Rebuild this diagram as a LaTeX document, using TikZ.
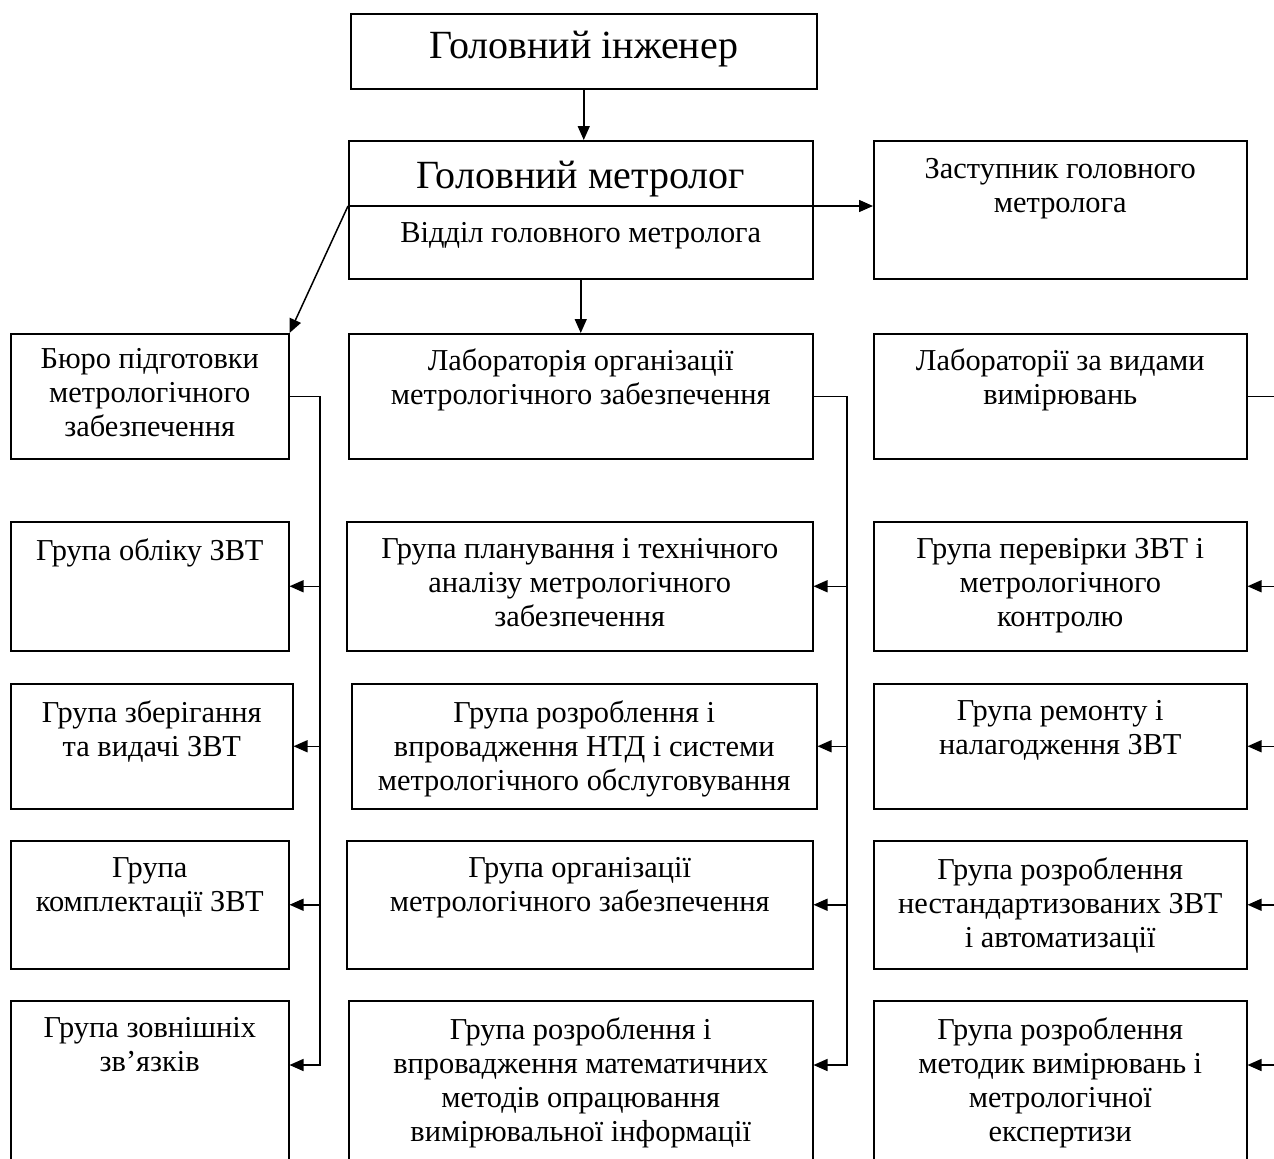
\documentclass[tikz,border=0pt]{standalone}
\usepackage{fontspec}
\setmainfont{Liberation Serif}
\usetikzlibrary{positioning,arrows.meta,calc}

\begin{document}
\begin{tikzpicture}[x=0.5pt, y=-0.5pt, line width=0.75pt,
	>={Triangle[length=7pt,width=6pt]},
	box/.style={draw, anchor=north west, inner sep=0pt, minimum height=62.5pt},
	txt/.style={align=center, inner sep=0pt, font=\fontsize{15.2pt}{17pt}\selectfont}]
	\clip (0,0) rectangle (1274,1158);
	% top levels
	\node[box, minimum width=233pt, minimum height=37.5pt] (eng) at (350,13) {};
	\node[txt, below=8.5pt of eng.north, font=\fontsize{20pt}{22pt}\selectfont] (eng-t) {Головний інженер};
	\node[box, minimum width=232pt, minimum height=69pt] (metr) at (348,140) {};
	\node[txt, below=10pt of metr.north, font=\fontsize{20pt}{22pt}\selectfont] (metr-t) {Головний метролог};
	\node[txt, below=41pt of metr.north, font=\fontsize{15.2pt}{17pt}\selectfont] (metr-d) {Відділ головного метролога};
	\node[box, minimum width=186.5pt, minimum height=69pt] (zast) at (873,140) {};
	\node[txt, below=9pt of zast.north] (zast-t) {Заступник головного\\метролога};
	\coordinate (split) at (348,206);
	
	% bureau and laboratories
	\node[box, minimum width=139pt] (bureau) at (10,333) {};
	\node[txt, below=7.5pt of bureau.north] (bureau-t) {Бюро підготовки\\метрологічного\\забезпечення};
	\node[box, minimum width=232pt] (lab) at (348,333) {};
	\node[txt, below=7.5pt of lab.north] (lab-t) {Лабораторія організації\\метрологічного забезпечення};
	\node[box, minimum width=186.5pt] (labs) at (873,333) {};
	\node[txt, below=7.5pt of labs.north] (labs-t) {Лабораторії за видами\\вимірювань};
	
	% groups, left column
	\node[box, minimum width=139pt, minimum height=64.5pt] (l1) at (10,521) {};
	\node[txt, below=8.5pt of l1.north] (l1-t) {Група обліку ЗВТ};
	\node[box, minimum width=141pt] (l2) at (10,683) {};
	\node[txt, below=8.5pt of l2.north] (l2-t) {Група зберігання\\та видачі ЗВТ};
	\node[box, minimum width=139pt, minimum height=64pt] (l3) at (10,840) {};
	\node[txt, below=8.5pt of l3.north] (l3-t) {Група\\комплектації ЗВТ};
	\node[box, minimum width=139pt, minimum height=100pt] (l4) at (10,1000) {};
	\node[txt, below=8.5pt of l4.north] (l4-t) {Група зовнішніх\\зв’язків};
	
	% groups, middle column
	\node[box, minimum width=233pt, minimum height=64.5pt] (m1) at (346,521) {};
	\node[txt, below=8.5pt of m1.north] (m1-t) {Група планування і технічного\\аналізу метрологічного\\забезпечення};
	\node[box, minimum width=232.5pt] (m2) at (351,683) {};
	\node[txt, below=8.5pt of m2.north] (m2-t) {Група розроблення і\\впровадження НТД і системи\\метрологічного обслуговування};
	\node[box, minimum width=233pt, minimum height=64pt] (m3) at (346,840) {};
	\node[txt, below=8.5pt of m3.north] (m3-t) {Група організації\\метрологічного забезпечення};
	\node[box, minimum width=232pt, minimum height=100pt] (m4) at (348,1000) {};
	\node[txt, below=8.5pt of m4.north] (m4-t) {Група розроблення і\\впровадження математичних\\методів опрацювання\\вимірювальної інформації};
	
	% groups, right column
	\node[box, minimum width=186.5pt, minimum height=64.5pt] (r1) at (873,521) {};
	\node[txt, below=8.5pt of r1.north] (r1-t) {Група перевірки ЗВТ і\\метрологічного\\контролю};
	\node[box, minimum width=186.5pt] (r2) at (873,683) {};
	\node[txt, below=8.5pt of r2.north] (r2-t) {Група ремонту і\\налагодження ЗВТ};
	\node[box, minimum width=186.5pt, minimum height=64pt] (r3) at (873,840) {};
	\node[txt, below=8.5pt of r3.north] (r3-t) {Група розроблення\\нестандартизованих ЗВТ\\і автоматизації};
	\node[box, minimum width=186.5pt, minimum height=100pt] (r4) at (873,1000) {};
	\node[txt, below=8.5pt of r4.north] (r4-t) {Група розроблення\\методик вимірювань і\\метрологічної\\експертизи};
	
	% connectors
	\draw[->] (eng.south) -- (eng.south |- metr.north);
	\draw[->] (split) -- (split -| zast.west);
	\draw[->] (split) -- (bureau.north east);
	\draw[->] (metr.south) -- (metr.south |- lab.north);
	
	\coordinate (lbus) at (320,0);
	\coordinate (mbus) at (847,0);
	\coordinate (rbus) at (1300,0);
	\coordinate (l4a) at ($(l4.north east)+(0,65)$);
	\coordinate (m4a) at ($(m4.north east)+(0,65)$);
	\coordinate (r4a) at ($(r4.north east)+(0,65)$);
	\draw[->] (bureau.east) -| (lbus |- l4a) -- (l4a);
	\draw[->] (lab.east) -| (mbus |- m4a) -- (m4a);
	\draw[->] (labs.east) -| (rbus |- r4a) -- (r4a);
	\foreach \c/\n in {l/1, l/2, l/3, m/1, m/2, m/3, r/1, r/2, r/3}
		\draw[->] (\c bus |- \c\n.east) -- (\c\n.east);
	
\end{tikzpicture}
\end{document}
